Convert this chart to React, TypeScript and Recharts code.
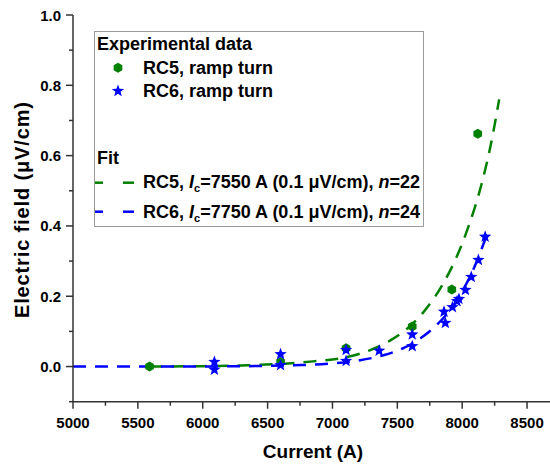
import React from 'react';
import { ComposedChart, XAxis, YAxis, Line, Scatter, Label } from 'recharts';

// experimental points
const rc5Current = [5590, 6600, 7105, 7615, 7920, 8120];
const rc5Field = [0.0, 0.013, 0.052, 0.114, 0.219, 0.662];

const rc6Current = [6090, 6090, 6600, 6600, 7105, 7105, 7360, 7615, 7615, 7860, 7870, 7925, 7960, 7975, 8025, 8070, 8125, 8177];
const rc6Field = [0.013, -0.009, 0.035, 0.004, 0.047, 0.016, 0.045, 0.091, 0.058, 0.156, 0.124, 0.169, 0.186, 0.192, 0.218, 0.255, 0.303, 0.369];

// fitted curves
const fit5Current = [5590, 6000, 6300, 6600, 6850, 7100, 7300, 7450, 7550, 7700, 7850, 7950, 8050, 8150, 8220, 8285];
const fit5Field = [0.0, 0.0011, 0.0033, 0.0074, 0.0147, 0.026, 0.048, 0.075, 0.1, 0.154, 0.234, 0.306, 0.4, 0.52, 0.63, 0.76];

const fit6Current = [5000, 5500, 6000, 6400, 6700, 7000, 7200, 7400, 7550, 7700, 7800, 7900, 8000, 8100, 8180];
const fit6Field = [0.0, 0.0001, 0.0003, 0.0012, 0.0036, 0.0088, 0.0172, 0.033, 0.053, 0.086, 0.117, 0.158, 0.214, 0.288, 0.365];

const xMajor = [5000, 5500, 6000, 6500, 7000, 7500, 8000, 8500];
const xTicks = [5000, 5250, 5500, 5750, 6000, 6250, 6500, 6750, 7000, 7250, 7500, 7750, 8000, 8250, 8500];
const yMajor = [0, 0.2, 0.4, 0.6, 0.8, 1.0];
const yTicks = [-0.1, 0, 0.1, 0.2, 0.3, 0.4, 0.5, 0.6, 0.7, 0.8, 0.9, 1.0];

const toPoints = (xs: number[], ys: number[]) => xs.map((x, i) => ({ x, y: ys[i] }));

const rc5Data = toPoints(rc5Current, rc5Field);
const rc6Data = toPoints(rc6Current, rc6Field);
const fit5Data = toPoints(fit5Current, fit5Field);
const fit6Data = toPoints(fit6Current, fit6Field);

const GREEN = '#008000';
const BLUE = '#0000ff';
const AXIS = '#333333';
const FONT = '"Liberation Sans", Arial, sans-serif';

const hexPoints = (cx: number, cy: number, r: number) =>
  [0, 1, 2, 3, 4, 5]
    .map((i) => {
      const a = ((-90 + 60 * i) * Math.PI) / 180;
      return `${cx + r * Math.cos(a)},${cy + r * Math.sin(a)}`;
    })
    .join(' ');

const starPoints = (cx: number, cy: number, R: number) =>
  Array.from({ length: 10 })
    .map((_, i) => {
      const r = i % 2 === 0 ? R : R * 0.42;
      const a = ((-90 + 36 * i) * Math.PI) / 180;
      return `${cx + r * Math.cos(a)},${cy + r * Math.sin(a)}`;
    })
    .join(' ');

const Hexagon = (props: any) => <polygon points={hexPoints(props.cx, props.cy, 5)} fill={GREEN} />;
const Star = (props: any) => <polygon points={starPoints(props.cx, props.cy, 6.5)} fill={BLUE} />;

const BottomTick = ({ x, y, payload }: any) => {
  const major = xMajor.includes(payload.value);
  return (
    <g>
      <line x1={x} x2={x} y1={y} y2={y + (major ? 7 : 4)} stroke={AXIS} strokeWidth={1.5} />
      {major && (
        <text x={x} y={y + 21} textAnchor="middle" dominantBaseline="central" fontSize={15} fontWeight="bold" fontFamily={FONT} fill="#000">
          {payload.value}
        </text>
      )}
    </g>
  );
};

const TopTick = ({ x, y, payload }: any) => {
  const major = xMajor.includes(payload.value);
  return <line x1={x} x2={x} y1={y} y2={y + (major ? 7 : 4)} stroke={AXIS} strokeWidth={1.5} />;
};

const LeftTick = ({ x, y, payload }: any) => {
  const major = yMajor.includes(payload.value);
  return (
    <g>
      <line x1={x} x2={x - (major ? 7 : 4)} y1={y} y2={y} stroke={AXIS} strokeWidth={1.5} />
      {major && (
        <text x={x - 12} y={y} textAnchor="end" dominantBaseline="central" fontSize={15} fontWeight="bold" fontFamily={FONT} fill="#000">
          {payload.value.toFixed(1)}
        </text>
      )}
    </g>
  );
};

const RightTick = ({ x, y, payload }: any) => {
  const major = yMajor.includes(payload.value);
  return <line x1={x} x2={x - (major ? 7 : 4)} y1={y} y2={y} stroke={AXIS} strokeWidth={1.5} />;
};

const XTitle = ({ viewBox }: any) => (
  <text x={viewBox.x + viewBox.width / 2} y={viewBox.y + 50} textAnchor="middle" dominantBaseline="central" fontSize={19} fontWeight="bold" fontFamily={FONT}>
    Current (A)
  </text>
);

const YTitle = () => (
  <text
    x={22}
    y={210}
    transform="rotate(-90 22 210)"
    textAnchor="middle"
    dominantBaseline="central"
    fontSize={20}
    textLength={216}
    lengthAdjust="spacing"
    fontWeight="bold"
    fontFamily={FONT}
  >
    Electric field (μV/cm)
  </text>
);

const legendText: React.CSSProperties = {
  position: 'absolute',
  fontFamily: FONT,
  fontWeight: 'bold',
  fontSize: 18,
  lineHeight: '20px',
  whiteSpace: 'nowrap',
  color: '#000',
};

const Sub = ({ children }: { children: React.ReactNode }) => (
  <span style={{ fontSize: 11, position: 'relative', top: 4 }}>{children}</span>
);

const ChartLegend = () => (
  <div style={{ position: 'absolute', left: 94, top: 31, width: 330, height: 196, border: '1px solid #9a9a9a', background: '#fff', boxSizing: 'border-box' }}>
    <div style={{ ...legendText, left: 2, top: 2 }}>Experimental data</div>
    <svg style={{ position: 'absolute', left: 0, top: 0 }} width={60} height={196}>
      <polygon points={hexPoints(23, 35.7, 5)} fill={GREEN} />
      <polygon points={starPoints(23, 59, 6.5)} fill={BLUE} />
      <line x1={0} x2={8} y1={150.7} y2={150.7} stroke={GREEN} strokeWidth={2.5} />
      <line x1={28} x2={39} y1={150.7} y2={150.7} stroke={GREEN} strokeWidth={2.5} />
      <line x1={0} x2={8} y1={179.7} y2={179.7} stroke={BLUE} strokeWidth={2.5} />
      <line x1={28} x2={39} y1={179.7} y2={179.7} stroke={BLUE} strokeWidth={2.5} />
    </svg>
    <div style={{ ...legendText, left: 48, top: 25.7 }}>RC5, ramp turn</div>
    <div style={{ ...legendText, left: 48, top: 49 }}>RC6, ramp turn</div>
    <div style={{ ...legendText, left: 2, top: 115.7 }}>Fit</div>
    <div style={{ ...legendText, left: 48, top: 140 }}>
      RC5, <i>I</i><Sub>c</Sub>=7550 A (0.1 μV/cm), <i>n</i>=22
    </div>
    <div style={{ ...legendText, left: 48, top: 170 }}>
      RC6, <i>I</i><Sub>c</Sub>=7750 A (0.1 μV/cm), <i>n</i>=24
    </div>
  </div>
);

export default function App() {
  return (
    <div style={{ position: 'absolute', left: 0, top: 0, width: 550, height: 464, overflow: 'hidden', background: '#fff' }}>
      <ComposedChart width={560} height={464} margin={{ top: 15, right: 7, bottom: 0, left: 0 }}>
        <XAxis
          xAxisId={0}
          dataKey="x"
          type="number"
          domain={[5000, 8700]}
          ticks={xTicks}
          allowDataOverflow
          height={62.3}
          tickSize={0}
          tickMargin={0}
          tickLine={false}
          tick={<BottomTick />}
          axisLine={{ stroke: AXIS, strokeWidth: 1.5 }}
          interval={0}
        >
          <Label content={<XTitle />} />
        </XAxis>
        <XAxis
          xAxisId="top"
          orientation="top"
          dataKey="x"
          type="number"
          domain={[5000, 8700]}
          ticks={xTicks}
          allowDataOverflow
          height={0}
          tickSize={0}
          tickMargin={0}
          tickLine={false}
          tick={<TopTick />}
          axisLine={{ stroke: AXIS, strokeWidth: 1.5 }}
          interval={0}
        />
        <YAxis
          yAxisId={0}
          type="number"
          domain={[-0.1, 1.0]}
          ticks={yTicks}
          allowDataOverflow
          width={73}
          tickSize={0}
          tickMargin={0}
          tickLine={false}
          tick={<LeftTick />}
          axisLine={{ stroke: AXIS, strokeWidth: 1.5 }}
          interval={0}
        >
          <Label content={<YTitle />} />
        </YAxis>
        <YAxis
          yAxisId="right"
          orientation="right"
          type="number"
          domain={[-0.1, 1.0]}
          ticks={yTicks}
          allowDataOverflow
          width={0}
          tickSize={0}
          tickMargin={0}
          tickLine={false}
          tick={<RightTick />}
          axisLine={{ stroke: AXIS, strokeWidth: 1.5 }}
          interval={0}
        />
        {/* invisible series so the mirrored top/right axes are drawn */}
        <Line
          data={fit6Data}
          dataKey="y"
          xAxisId="top"
          yAxisId="right"
          stroke="none"
          dot={false}
          activeDot={false}
          isAnimationActive={false}
        />
        <Line
          data={fit5Data}
          dataKey="y"
          type="monotone"
          stroke={GREEN}
          strokeWidth={2.5}
          strokeDasharray="13 9"
          dot={false}
          activeDot={false}
          isAnimationActive={false}
        />
        <Line
          data={fit6Data}
          dataKey="y"
          type="monotone"
          stroke={BLUE}
          strokeWidth={2.5}
          strokeDasharray="13 9"
          dot={false}
          activeDot={false}
          isAnimationActive={false}
        />
        <Scatter data={rc5Data} dataKey="y" shape={<Hexagon />} isAnimationActive={false} />
        <Scatter data={rc6Data} dataKey="y" shape={<Star />} isAnimationActive={false} />
      </ComposedChart>
      <ChartLegend />
    </div>
  );
}
